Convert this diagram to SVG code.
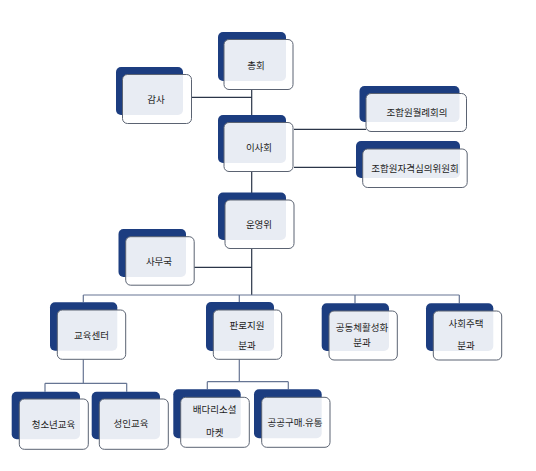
<svg xmlns="http://www.w3.org/2000/svg" width="536" height="471" viewBox="0 0 536 471">
<style>
.bk{fill:#1c3d80}
.fr{fill:#ffffff;fill-opacity:0.9;stroke:#5b6372;stroke-width:1}
.t{font-family:"Noto Sans CJK KR","Noto Sans",sans-serif;font-size:9.5px;fill:#1e1e1e;text-anchor:middle;dominant-baseline:central}
.c1{stroke:#2b3548;stroke-width:1.2;fill:none}
.c2{stroke:#667593;stroke-width:1.2;fill:none}
</style>
<rect width="536" height="471" fill="#ffffff"/>
<g id="connectors">
<path class="c1" d="M191.7 97.3H251.7M251.7 89.7V122.5M294 129.3H366M294 167.3H362.7M251.7 171.5V200M194.2 267.3H251.7M251.7 248.5V295"/>
<path class="c2" d="M83.3 295H459.3M83.3 295V302.3M239.3 295V302M355 295V303.3M459.3 295V303.3"/>
<path class="c2" d="M83.3 359.3V383.3M45 383.3H126.7M45 383.3V391.7M126.7 383.3V391.7"/>
<path class="c2" d="M239.3 359.3V381.7M207.3 381.7H288.3M207.3 381.7V389.3M288.3 381.7V389.3"/>
</g>
<g id="n-chonghoe"><rect class="bk" x="218" y="32" width="68" height="49" rx="5"/><rect class="fr" x="224" y="39.5" width="69" height="50" rx="5"/><text class="t" x="256" y="64.5">총회</text></g>
<g id="n-gamsa"><rect class="bk" x="116" y="67" width="67" height="48" rx="5"/><rect class="fr" x="122.5" y="74.5" width="69" height="49" rx="5"/><text class="t" x="156" y="98.5">감사</text></g>
<g id="n-isahoe"><rect class="bk" x="218" y="115" width="68" height="48" rx="5"/><rect class="fr" x="224" y="122.5" width="69" height="49" rx="5"/><text class="t" x="259" y="147">이사회</text></g>
<g id="n-wollye"><rect class="bk" x="359.5" y="86" width="100" height="36" rx="5"/><rect class="fr" x="366" y="93.5" width="100.5" height="38" rx="5"/><text class="t" x="417" y="112">조합원월례회의</text></g>
<g id="n-jagyeok"><rect class="bk" x="356" y="141" width="104" height="37" rx="5"/><rect class="fr" x="362.7" y="149" width="104.5" height="38.5" rx="5"/><text class="t" x="415" y="168">조합원자격심의위원회</text></g>
<g id="n-unyeong"><rect class="bk" x="218" y="192.5" width="68" height="47.5" rx="5"/><rect class="fr" x="225" y="200" width="69" height="48.5" rx="5"/><text class="t" x="259" y="224">운영위</text></g>
<g id="n-samuguk"><rect class="bk" x="118.5" y="229" width="67.5" height="48" rx="5"/><rect class="fr" x="125.7" y="236.7" width="68.5" height="48.5" rx="5"/><text class="t" x="159" y="261">사무국</text></g>
<g id="n-gyoyuk"><rect class="bk" x="50" y="302.3" width="67.3" height="48.5" rx="5"/><rect class="fr" x="57.3" y="310" width="68.4" height="49.3" rx="5"/><text class="t" x="91.5" y="335">교육센터</text></g>
<g id="n-panro"><rect class="bk" x="206" y="302" width="68" height="49" rx="5"/><rect class="fr" x="213.3" y="310" width="68.4" height="49.3" rx="5"/><text class="t" x="247" y="325">판로지원</text><text class="t" x="247" y="345">분과</text></g>
<g id="n-gongdong"><rect class="bk" x="321.7" y="303.3" width="67.3" height="47.7" rx="5"/><rect class="fr" x="329" y="311" width="68.3" height="49" rx="5"/><text class="t" x="362" y="326.7">공동체활성화</text><text class="t" x="362" y="342">분과</text></g>
<g id="n-sahoe"><rect class="bk" x="426" y="303.3" width="67.3" height="47.7" rx="5"/><rect class="fr" x="433.3" y="311" width="68.4" height="49" rx="5"/><text class="t" x="466" y="323.3">사회주택</text><text class="t" x="466" y="345">분과</text></g>
<g id="n-cheongsonyeon"><rect class="bk" x="11.7" y="391.7" width="68.3" height="47.6" rx="5"/><rect class="fr" x="19.3" y="399" width="69" height="50.3" rx="5"/><text class="t" x="53.5" y="423.5">청소년교육</text></g>
<g id="n-seongin"><rect class="bk" x="91.7" y="391.7" width="68.3" height="47.6" rx="5"/><rect class="fr" x="99.3" y="399" width="69" height="50.3" rx="5"/><text class="t" x="131" y="422.5">성인교육</text></g>
<g id="n-baedari"><rect class="bk" x="173.3" y="389.3" width="67.4" height="49" rx="5"/><rect class="fr" x="180.7" y="397.3" width="68.6" height="50" rx="5"/><text class="t" x="214.7" y="409.3">배다리소셜</text><text class="t" x="214.7" y="431.7">마켓</text></g>
<g id="n-gonggong"><rect class="bk" x="254" y="389.3" width="67.7" height="49" rx="5"/><rect class="fr" x="261.7" y="397.3" width="68.3" height="50" rx="5"/><text class="t" x="295" y="421.7">공공구매.유통</text></g>
</svg>
